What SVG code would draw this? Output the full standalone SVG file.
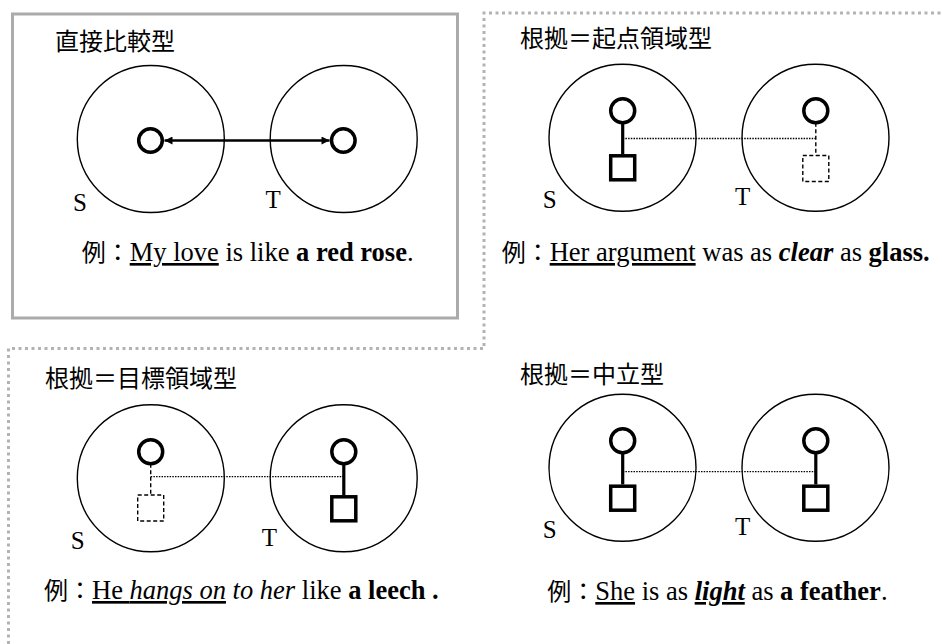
<svg xmlns="http://www.w3.org/2000/svg" width="942" height="644" viewBox="0 0 942 644">
  <style>
    .bg { fill: #ffffff; }
    .frame { fill: none; stroke: #ababab; stroke-width: 3; }
    .frame-dot { fill: none; stroke: #b3b3b3; stroke-width: 3; stroke-dasharray: 3 3.5; }
    .domain { fill: none; stroke: #000; stroke-width: 1.4; }
    .elem { fill: none; stroke: #000; stroke-width: 3.5; }
    .elem-ghost { fill: none; stroke: #000; stroke-width: 1.4; stroke-dasharray: 4 2.5; }
    .link { stroke: #000; stroke-width: 3.2; fill: none; }
    .link-ghost { stroke: #000; stroke-width: 1.4; stroke-dasharray: 4 2.5; fill: none; }
    .map { stroke: #000; stroke-width: 1.3; stroke-dasharray: 1.5 1.2; fill: none; }
    .arrow { stroke: #000; stroke-width: 2.6; fill: none; }
    .title { font-family: "Noto Sans CJK JP", sans-serif; font-size: 24px; fill: #000; }
    .lbl { font-family: "Liberation Serif", serif; font-size: 25px; fill: #000; }
    .ex { font-family: "Liberation Serif", "Noto Sans CJK JP", serif; font-size: 26.5px; fill: #000; }
    .cjk { font-family: "Noto Sans CJK JP", sans-serif; font-size: 24px; }
    .b { font-weight: bold; }
    .i { font-style: italic; }
    .u { text-decoration: underline; }
  </style>
  <defs>
    <marker id="head" viewBox="0 0 10 10" refX="10" refY="5" markerWidth="9" markerHeight="8" markerUnits="userSpaceOnUse" orient="auto-start-reverse">
      <path d="M0,0 L10,5 L0,10 Z" fill="#000"/>
    </marker>
  </defs>

  <rect class="bg" x="0" y="0" width="942" height="644"/>

  <!-- panel frames -->
  <g id="frames">
    <rect class="frame" x="12.5" y="14" width="445" height="304"/>
    <polyline class="frame-dot" points="8.5,644 8.5,348.5 484,348.5 484,13 942,13"/>
  </g>

  <!-- direct comparison -->
  <g id="direct">
    <text class="title" x="55" y="50">直接比較型</text>
    <g id="direct-S"><circle class="domain" cx="150.8" cy="139" r="73.5"/><text class="lbl" x="73" y="211">S</text></g>
    <g id="direct-T"><circle class="domain" cx="343.7" cy="139" r="73.5"/><text class="lbl" x="265.5" y="208">T</text></g>
    <g id="direct-s1"><circle class="elem" cx="150.5" cy="140.5" r="11.8"/></g>
    <g id="direct-t1"><circle class="elem" cx="343.3" cy="140.5" r="11.8"/></g>
    <text class="ex" x="81.7" y="261"><tspan class="cjk">例：</tspan><tspan class="u">My love</tspan> is like <tspan class="b">a red rose</tspan>.</text>
  </g>

  <!-- ground = source domain -->
  <g id="source">
    <text class="title" x="520" y="47">根拠＝起点領域型</text>
    <g id="source-S"><circle class="domain" cx="622.5" cy="137.8" r="73.5"/><text class="lbl" x="542.7" y="208">S</text></g>
    <g id="source-T"><circle class="domain" cx="815.5" cy="137.8" r="73.5"/><text class="lbl" x="735" y="205">T</text></g>
    <g id="source-s1"><circle class="elem" cx="622.7" cy="110.8" r="12"/></g>
    <g id="source-s2"><rect class="elem" x="610.7" y="155.8" width="24" height="24"/></g>
    <g id="source-t1"><circle class="elem" cx="815.8" cy="110.8" r="12"/></g>
    <g id="source-t2"><rect class="elem-ghost" x="802.8" y="155.5" width="26" height="26"/></g>
    <text class="ex" x="501.7" y="261"><tspan class="cjk">例：</tspan><tspan class="u">Her argument</tspan> was as <tspan class="b i">clear</tspan> as <tspan class="b">glass.</tspan></text>
  </g>

  <!-- ground = target domain -->
  <g id="target">
    <text class="title" x="45" y="387">根拠＝目標領域型</text>
    <g id="target-S"><circle class="domain" cx="150.8" cy="478.3" r="73.5"/><text class="lbl" x="70.7" y="548.5">S</text></g>
    <g id="target-T"><circle class="domain" cx="343.7" cy="478.3" r="73.5"/><text class="lbl" x="261.7" y="545.7">T</text></g>
    <g id="target-s1"><circle class="elem" cx="150.7" cy="451.7" r="12"/></g>
    <g id="target-s2"><rect class="elem-ghost" x="137.7" y="495" width="26" height="26"/></g>
    <g id="target-t1"><circle class="elem" cx="343.8" cy="451.7" r="12"/></g>
    <g id="target-t2"><rect class="elem" x="331.8" y="496.8" width="24" height="24"/></g>
    <text class="ex" x="44" y="599"><tspan class="cjk">例：</tspan><tspan class="u">He <tspan class="i">hangs on</tspan></tspan><tspan class="i"> to her</tspan> like <tspan class="b">a leech .</tspan></text>
  </g>

  <!-- ground = neutral -->
  <g id="neutral">
    <text class="title" x="520" y="383">根拠＝中立型</text>
    <g id="neutral-S"><circle class="domain" cx="622.5" cy="467.8" r="73.5"/><text class="lbl" x="542.7" y="538.3">S</text></g>
    <g id="neutral-T"><circle class="domain" cx="815.5" cy="467.8" r="73.5"/><text class="lbl" x="735" y="535">T</text></g>
    <g id="neutral-s1"><circle class="elem" cx="622.7" cy="440.8" r="12"/></g>
    <g id="neutral-s2"><rect class="elem" x="610.7" y="486.2" width="24" height="24"/></g>
    <g id="neutral-t1"><circle class="elem" cx="815.8" cy="440.8" r="12"/></g>
    <g id="neutral-t2"><rect class="elem" x="803.8" y="486.2" width="24" height="24"/></g>
    <text class="ex" x="547.3" y="600"><tspan class="cjk">例：</tspan><tspan class="u">She</tspan> is as <tspan class="b i u">light</tspan> as <tspan class="b">a feather</tspan>.</text>
  </g>

  <!-- connectors -->
  <g id="connectors">
    <line class="arrow" x1="164.5" y1="140.5" x2="329.5" y2="140.5" marker-start="url(#head)" marker-end="url(#head)"/>

    <line class="link" x1="622.7" y1="122.8" x2="622.7" y2="154"/>
    <line class="link-ghost" x1="815.8" y1="122.8" x2="815.8" y2="155.5"/>
    <line class="map" x1="622.7" y1="138.5" x2="815.8" y2="138.5"/>

    <line class="link-ghost" x1="150.7" y1="463.7" x2="150.7" y2="495"/>
    <line class="link" x1="343.8" y1="463.7" x2="343.8" y2="495"/>
    <line class="map" x1="150.7" y1="476.7" x2="343.8" y2="476.7"/>

    <line class="link" x1="622.7" y1="452.8" x2="622.7" y2="484.5"/>
    <line class="link" x1="815.8" y1="452.8" x2="815.8" y2="484.5"/>
    <line class="map" x1="622.7" y1="471.7" x2="815.8" y2="471.7"/>
  </g>
</svg>
